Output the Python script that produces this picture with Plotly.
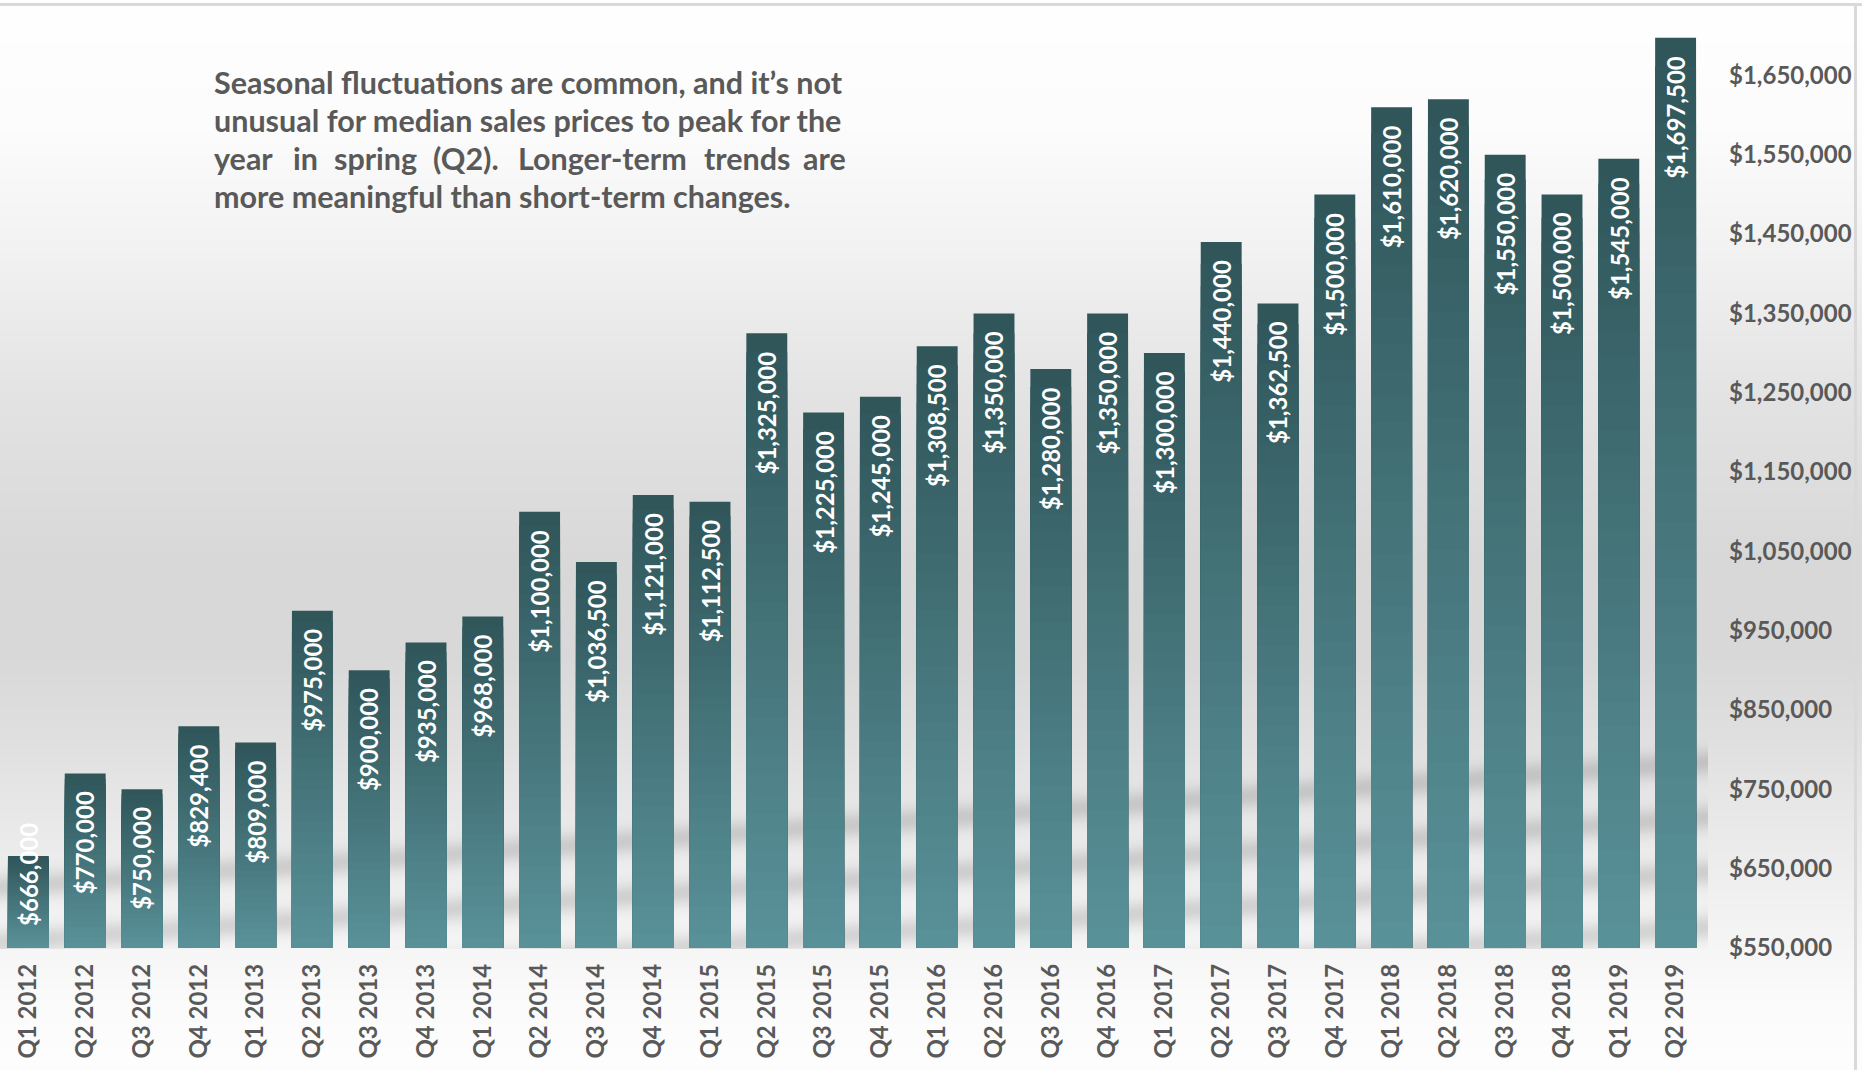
import base64
import struct
import zlib

import numpy as np
import plotly.graph_objects as go

# ---------------- data ----------------
quarters = [
    "Q1 2012", "Q2 2012", "Q3 2012", "Q4 2012",
    "Q1 2013", "Q2 2013", "Q3 2013", "Q4 2013",
    "Q1 2014", "Q2 2014", "Q3 2014", "Q4 2014",
    "Q1 2015", "Q2 2015", "Q3 2015", "Q4 2015",
    "Q1 2016", "Q2 2016", "Q3 2016", "Q4 2016",
    "Q1 2017", "Q2 2017", "Q3 2017", "Q4 2017",
    "Q1 2018", "Q2 2018", "Q3 2018", "Q4 2018",
    "Q1 2019", "Q2 2019",
]
median_prices = [
    666000, 770000, 750000, 829400,
    809000, 975000, 900000, 935000,
    968000, 1100000, 1036500, 1121000,
    1112500, 1325000, 1225000, 1245000,
    1308500, 1350000, 1280000, 1350000,
    1300000, 1440000, 1362500, 1500000,
    1610000, 1620000, 1550000, 1500000,
    1545000, 1697500,
]
y_tick_values = [550000, 650000, 750000, 850000, 950000, 1050000,
                 1150000, 1250000, 1350000, 1450000, 1550000, 1650000]
y_tick_labels = ["$550,000", "$650,000", "$750,000", "$850,000", "$950,000",
                 "$1,050,000", "$1,150,000", "$1,250,000", "$1,350,000",
                 "$1,450,000", "$1,550,000", "$1,650,000"]
note_lines = [
    "Seasonal fluctuations are common, and it\u2019s not",
    "unusual for median sales prices to peak for the",
    "year in spring (Q2). Longer-term trends are",
    "more meaningful than short-term changes.",
]

# ---------------- layout geometry ----------------
W, H = 1862, 1070
M_L, M_R, M_T, M_B = 0, 158, 8, 122
PLOT_W = W - M_L - M_R
PLOT_H = H - M_T - M_B
Y_MIN, Y_MAX = 550000, 1735000
AXIS_Y = M_T + PLOT_H  # pixel row of the x axis

FONT = "Lato"
GREY_TXT = "#595959"
TOP_COL = np.array([47, 85, 89])
BOT_COL = np.array([90, 146, 154])
LABEL_SIZE = 24


def px_to_paper_x(px):
    return (px - M_L) / PLOT_W


def px_to_paper_y(py):
    return (AXIS_Y - py) / PLOT_H


# ---------------- background image (gradient + reflection + border) ----------------
stop_y = [0, 130, 250, 400, 550, 650, 720, 800, 880, 948, 1000, 1070]
stop_v = [255, 252, 242, 227, 217, 216, 222, 231, 239, 246, 251, 254]
ys = np.arange(H, dtype=float)[:, None]
xs = np.arange(W, dtype=float)[None, :]
img = np.interp(np.arange(H), stop_y, stop_v)[:, None] * np.ones((1, W))
shade = np.zeros((H, W))
for j in range(4):
    yc = 887 + 55 * j - 0.0733 * xs
    shade += 32 * np.exp(-((ys - yc) / 13.0) ** 2)
mask = (xs <= 1707) & (ys <= AXIS_Y)
img = img - shade * mask
img[3:6, :] = 217
img[3:, 1854:1857] = 217
img = np.clip(img, 0, 255).astype(np.uint8)


def gray_png(a):
    h, w = a.shape
    raw = np.hstack([np.zeros((h, 1), dtype=np.uint8), a]).tobytes()

    def chunk(t, d):
        return struct.pack(">I", len(d)) + t + d + struct.pack(">I", zlib.crc32(t + d) & 0xFFFFFFFF)

    ihdr = struct.pack(">IIBBBBB", w, h, 8, 0, 0, 0, 0)
    return (b"\x89PNG\r\n\x1a\n" + chunk(b"IHDR", ihdr)
            + chunk(b"IDAT", zlib.compress(raw, 9)) + chunk(b"IEND", b""))


bg_src = "data:image/png;base64," + base64.b64encode(gray_png(img)).decode()

# ---------------- figure ----------------
fig = go.Figure()

# gradient bars: overlaid layers, each a fraction of the bar height above the axis base
N_LAYERS = 32
for k in range(N_LAYERS):
    frac = 1 - k / N_LAYERS
    t = 1 - (k + 0.5) / N_LAYERS
    c = (BOT_COL + (TOP_COL - BOT_COL) * t).round().astype(int)
    fig.add_trace(go.Bar(
        x=quarters,
        y=[Y_MIN + frac * (v - Y_MIN) for v in median_prices],
        marker=dict(color=f"rgb({c[0]},{c[1]},{c[2]})", line=dict(width=0)),
        hoverinfo="skip" if k else None,
        hovertemplate="%{x}<extra></extra>" if k == 0 else None,
        showlegend=False,
    ))

annotations = []
px_per_val = PLOT_H / (Y_MAX - Y_MIN)
bar_font = dict(family=FONT, size=LABEL_SIZE, color="white", weight="bold")
for q, v in zip(quarters, median_prices):
    label = f"${v:,.0f}"
    bar_px = (v - Y_MIN) * px_per_val
    if bar_px > 125:
        annotations.append(dict(
            x=q, y=v, xref="x", yref="y", text=label, textangle=-90,
            yanchor="top", yshift=-16, showarrow=False, font=bar_font))
    else:
        annotations.append(dict(
            x=q, y=Y_MIN, xref="x", yref="y", text=label, textangle=-90,
            yanchor="bottom", yshift=20, showarrow=False, font=bar_font))

note_font = dict(family=FONT, size=30.5, color=GREY_TXT, weight="bold")
line_centers = [81.5, 119.5, 158.5, 196.5]
TXT_L, TXT_R = 212, 848
for i in (0, 1, 3):
    annotations.append(dict(
        x=px_to_paper_x(TXT_L), y=px_to_paper_y(line_centers[i]), xref="paper", yref="paper",
        text=note_lines[i], xanchor="left", yanchor="middle", showarrow=False, font=note_font))
# justified third line: word by word
words3 = note_lines[2].split(" ")
word_x = [212, 291, 332, 431, 516, 702, 848]
for w_i, (wd, wx) in enumerate(zip(words3, word_x)):
    annotations.append(dict(
        x=px_to_paper_x(wx), y=px_to_paper_y(line_centers[2]), xref="paper", yref="paper",
        text=wd, xanchor="right" if w_i == len(words3) - 1 else "left", yanchor="middle",
        showarrow=False, font=note_font))

fig.update_layout(
    width=W, height=H,
    margin=dict(l=M_L, r=M_R, t=M_T, b=M_B, autoexpand=False),
    paper_bgcolor="white",
    plot_bgcolor="rgba(0,0,0,0)",
    barmode="overlay",
    bargap=0.28,
    showlegend=False,
    annotations=annotations,
    images=[dict(
        source=bg_src, xref="paper", yref="paper",
        x=px_to_paper_x(0), y=px_to_paper_y(0),
        sizex=W / PLOT_W, sizey=H / PLOT_H,
        xanchor="left", yanchor="top", sizing="stretch", layer="below")],
    xaxis=dict(
        type="category", range=[-0.5, len(quarters) - 0.5],
        tickangle=-90, ticks="", showgrid=False, zeroline=False, showline=False,
        ticklabelstandoff=10, automargin=False,
        tickfont=dict(family=FONT, size=LABEL_SIZE, color=GREY_TXT, weight="bold")),
    yaxis=dict(
        side="right", range=[Y_MIN, Y_MAX],
        tickvals=y_tick_values, ticktext=y_tick_labels,
        ticks="", showgrid=False, zeroline=False, showline=False,
        ticklabelstandoff=24, automargin=False,
        tickfont=dict(family=FONT, size=LABEL_SIZE, color=GREY_TXT, weight="bold")),
)

fig.write_html("out.html")
